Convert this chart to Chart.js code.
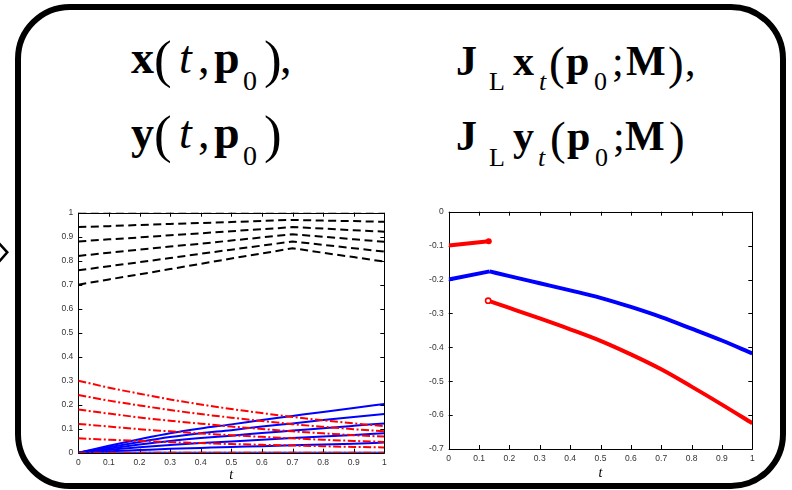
<!DOCTYPE html>
<html>
<head>
<meta charset="utf-8">
<script src="https://cdn.jsdelivr.net/npm/chart.js@4/dist/chart.umd.min.js"></script>
<style>
html,body{margin:0;padding:0;background:#fff;}
body{width:792px;height:490px;position:relative;overflow:hidden;font-family:'Liberation Serif','Times New Roman',serif;color:#000;}
#frame{position:absolute;left:15px;top:4px;width:771px;height:485px;box-sizing:border-box;border:6px solid #000;border-radius:55px;}
.g{position:absolute;white-space:pre;line-height:1;}
.L{font-size:46px;}
.Lp{font-size:53px;}
.Ls{font-size:28px;}
.R{font-size:42px;}
.Rp{font-size:47px;}
.Rs{font-size:26px;}
.b{font-weight:bold;}
.i{font-style:italic;}
canvas{position:absolute;}
</style>
</head>
<body>
<svg style="position:absolute;left:0;top:240px" width="12" height="26"><polyline points="-1,3.3 7.3,12.3 -1,21.7" fill="none" stroke="#000" stroke-width="2.5"/></svg>
<div id="frame"></div>

<!-- x(t,p0), -->
<span class="g L b" style="left:131px;top:34.8px">x</span>
<span class="g Lp" style="left:154px;top:32.7px">(</span>
<span class="g L i" style="left:179px;top:34.8px">t</span>
<span class="g L" style="left:198px;top:34.8px">,</span>
<span class="g L b" style="left:214px;top:34.8px">p</span>
<span class="g Ls" style="left:243px;top:67.3px">0</span>
<span class="g Lp" style="left:264px;top:32.7px">)</span>
<span class="g L" style="left:280px;top:34.8px">,</span>
<!-- y(t,p0) -->
<span class="g L b" style="left:131px;top:109.8px">y</span>
<span class="g Lp" style="left:154px;top:107.7px">(</span>
<span class="g L i" style="left:179px;top:109.8px">t</span>
<span class="g L" style="left:198px;top:109.8px">,</span>
<span class="g L b" style="left:214px;top:109.8px">p</span>
<span class="g Ls" style="left:243px;top:142.3px">0</span>
<span class="g Lp" style="left:264px;top:107.7px">)</span>
<!-- J_L x_t(p0;M), -->
<span class="g R b" style="left:456px;top:39.8px">J</span>
<span class="g Rs" style="left:489px;top:69.2px">L</span>
<span class="g R b" style="left:513px;top:39.8px">x</span>
<span class="g Rs i" style="left:539px;top:69.2px">t</span>
<span class="g Rp" style="left:549px;top:39.9px">(</span>
<span class="g R b" style="left:566px;top:39.8px">p</span>
<span class="g Rs" style="left:594px;top:69.2px">0</span>
<span class="g R" style="left:612px;top:39.8px">;</span>
<span class="g R b" style="left:626px;top:39.8px">M</span>
<span class="g Rp" style="left:668px;top:39.9px">)</span>
<span class="g R" style="left:685px;top:39.8px">,</span>
<!-- J_L y_t(p0;M) -->
<span class="g R b" style="left:456px;top:115.3px">J</span>
<span class="g Rs" style="left:489px;top:144.7px">L</span>
<span class="g R b" style="left:513px;top:115.3px">y</span>
<span class="g Rs i" style="left:538px;top:144.7px">t</span>
<span class="g Rp" style="left:550px;top:115.4px">(</span>
<span class="g R b" style="left:567px;top:115.3px">p</span>
<span class="g Rs" style="left:595px;top:144.7px">0</span>
<span class="g R" style="left:613px;top:115.3px">;</span>
<span class="g R b" style="left:625px;top:115.3px">M</span>
<span class="g Rp" style="left:669px;top:115.4px">)</span>

<canvas id="left" width="355" height="285" style="left:40px;top:200px"></canvas>
<canvas id="right" width="360" height="285" style="left:405px;top:200px"></canvas>

<script>
// ---------- data: left panel ----------
const tGrid = [0, 0.1, 0.2, 0.3, 0.4, 0.5, 0.6, 0.7, 0.8, 0.9, 1];

const blackDashed1 = [1.000, 1.000, 1.000, 1.000, 1.000, 1.000, 1.000, 1.000, 1.000, 1.000, 1.000];
const blackDashed2 = [0.940, 0.944, 0.949, 0.953, 0.957, 0.961, 0.966, 0.970, 0.967, 0.965, 0.962];
const blackDashed3 = [0.880, 0.889, 0.897, 0.906, 0.914, 0.923, 0.931, 0.940, 0.934, 0.927, 0.921];
const blackDashed4 = [0.820, 0.833, 0.846, 0.859, 0.871, 0.884, 0.897, 0.910, 0.900, 0.889, 0.879];
const blackDashed5 = [0.760, 0.777, 0.794, 0.811, 0.829, 0.846, 0.863, 0.880, 0.866, 0.852, 0.838];
const blackDashed6 = [0.700, 0.722, 0.743, 0.765, 0.787, 0.809, 0.830, 0.852, 0.833, 0.815, 0.796];

const redDashDot1 = [0.300, 0.271, 0.246, 0.222, 0.201, 0.182, 0.165, 0.149, 0.135, 0.122, 0.111];
const redDashDot2 = [0.240, 0.217, 0.197, 0.178, 0.161, 0.146, 0.132, 0.119, 0.108, 0.098, 0.089];
const redDashDot3 = [0.180, 0.163, 0.147, 0.133, 0.121, 0.109, 0.099, 0.089, 0.081, 0.073, 0.067];
const redDashDot4 = [0.120, 0.109, 0.098, 0.089, 0.080, 0.073, 0.066, 0.060, 0.054, 0.049, 0.045];
const redDashDot5 = [0.060, 0.054, 0.049, 0.044, 0.040, 0.036, 0.033, 0.030, 0.027, 0.024, 0.022];
const redDashDot6 = [0.000, 0.000, 0.000, 0.000, 0.000, 0.000, 0.000, 0.000, 0.000, 0.000, 0.000];

const blueSolid1 = [0.000, 0.029, 0.056, 0.081, 0.101, 0.118, 0.136, 0.153, 0.170, 0.186, 0.203];
const blueSolid2 = [0.000, 0.023, 0.045, 0.065, 0.081, 0.094, 0.109, 0.122, 0.136, 0.149, 0.161];
const blueSolid3 = [0.000, 0.017, 0.034, 0.049, 0.061, 0.071, 0.082, 0.092, 0.102, 0.112, 0.122];
const blueSolid4 = [0.000, 0.012, 0.023, 0.032, 0.040, 0.047, 0.054, 0.061, 0.068, 0.074, 0.081];
const blueSolid5 = [0.000, 0.006, 0.011, 0.016, 0.020, 0.024, 0.027, 0.031, 0.034, 0.037, 0.042];
const blueSolid6 = [0.000, 0.000, 0.000, 0.000, 0.000, 0.000, 0.000, 0.000, 0.000, 0.000, 0.000];

const leftYTickLabels = ['0','0.1','0.2','0.3','0.4','0.5','0.6','0.7','0.8','0.9','1'];
const tTickLabels     = ['0','0.1','0.2','0.3','0.4','0.5','0.6','0.7','0.8','0.9','1'];

// ---------- data: right panel ----------
const tBlue  = [0, 0.135, 0.2, 0.3, 0.4, 0.5, 0.6, 0.7, 0.8, 0.9, 1];
const jxBlue = [-0.200, -0.176, -0.190, -0.211, -0.232, -0.254, -0.281, -0.311, -0.345, -0.380, -0.418];
const tRedA  = [0, 0.132];
const jyRedA = [-0.100, -0.0875];
const tRedB  = [0.13, 0.2, 0.3, 0.4, 0.5, 0.6, 0.7, 0.8, 0.9, 1];
const jyRedB = [-0.2625, -0.284, -0.315, -0.347, -0.381, -0.421, -0.465, -0.516, -0.569, -0.624];

const rightYTickLabels = ['-0.7','-0.6','-0.5','-0.4','-0.3','-0.2','-0.1','0'];

// ---------- helpers ----------
const pts = (ts, vs) => ts.map((t, i) => ({x: t, y: vs[i]}));
const tickFont = {family: "'Liberation Sans', Arial, sans-serif", size: 8.5};
const tickColor = '#333';

const framePlugin = {
  id: 'frameTicks',
  beforeDatasetsDraw(chart) {
    const {ctx, chartArea: a} = chart;
    const xs = chart.scales.x, ys = chart.scales.y;
    const L = 4;
    ctx.save();
    ctx.strokeStyle = '#000';
    ctx.lineWidth = 1;
    ctx.beginPath();
    ctx.rect(Math.round(a.left) + 0.5, Math.round(a.top) + 0.5,
             Math.round(a.right) - Math.round(a.left), Math.round(a.bottom) - Math.round(a.top));
    ctx.stroke();
    ctx.beginPath();
    xs.ticks.forEach(tk => {
      const px = Math.round(xs.getPixelForValue(tk.value)) + 0.5;
      ctx.moveTo(px, a.bottom); ctx.lineTo(px, a.bottom - L);
      ctx.moveTo(px, a.top); ctx.lineTo(px, a.top + L);
    });
    ys.ticks.forEach(tk => {
      const py = Math.round(ys.getPixelForValue(tk.value)) + 0.5;
      ctx.moveTo(a.left, py); ctx.lineTo(a.left + L, py);
      ctx.moveTo(a.right, py); ctx.lineTo(a.right - L, py);
    });
    ctx.stroke();
    ctx.restore();
  }
};

function xScale(labels, height, titlePadBottom) {
  return {
    type: 'linear', min: 0, max: 1,
    grid: {display: false, drawTicks: false}, border: {display: false},
    ticks: {stepSize: 0.1, padding: 5, color: tickColor, font: tickFont, maxRotation: 0, autoSkip: false,
            callback: (v) => labels[Math.round(v * 10)]},
    title: {display: true, text: 't', color: '#000',
            font: {family: "'Liberation Serif', 'Times New Roman', serif", style: 'italic', size: 14},
            padding: {top: 0, bottom: titlePadBottom}},
    afterFit(s) { s.height = height; }
  };
}
function yScale(min, max, labels, width) {
  return {
    type: 'linear', min: min, max: max,
    grid: {display: false, drawTicks: false}, border: {display: false},
    ticks: {stepSize: 0.1, padding: 5, color: tickColor, font: tickFont, autoSkip: false,
            callback: (v) => labels[Math.round((v - min) * 10)]},
    afterFit(s) { s.width = width; }
  };
}
const common = {
  responsive: false, animation: false, devicePixelRatio: 1,
  plugins: {legend: {display: false}, tooltip: {enabled: false}},
  elements: {point: {radius: 0}, line: {tension: 0}}
};

// ---------- left chart ----------
const blacks = [blackDashed1, blackDashed2, blackDashed3, blackDashed4, blackDashed5, blackDashed6];
const reds   = [redDashDot1, redDashDot2, redDashDot3, redDashDot4, redDashDot5, redDashDot6];
const blues  = [blueSolid1, blueSolid2, blueSolid3, blueSolid4, blueSolid5, blueSolid6];
const leftSets = [];
reds.forEach(v => leftSets.push({data: pts(tGrid, v), borderColor: '#ff0000', borderWidth: 2, borderDash: [8, 2.5, 2, 2.5], cubicInterpolationMode: 'monotone', order: 0}));
blues.forEach(v => leftSets.push({data: pts(tGrid, v), borderColor: '#0000ff', borderWidth: 2, cubicInterpolationMode: 'monotone', order: 1}));
blacks.forEach(v => leftSets.push({data: pts(tGrid, v), borderColor: '#000000', borderWidth: 2, borderDash: [8, 4.5], order: 2}));

new Chart(document.getElementById('left'), {
  type: 'line',
  data: {datasets: leftSets},
  options: Object.assign({}, common, {
    layout: {padding: {top: 12.7, right: 10.7, bottom: 0, left: 0}},
    scales: {x: xScale(tTickLabels, 32.3, 1.3), y: yScale(0, 1, leftYTickLabels, 38.3)}
  }),
  plugins: [framePlugin]
});

// ---------- right chart ----------
new Chart(document.getElementById('right'), {
  type: 'line',
  data: {datasets: [
    {data: pts(tRedA, jyRedA), borderColor: '#ff0000', borderWidth: 4, order: 0,
     pointRadius: [0, 3], pointBackgroundColor: '#ff0000', pointBorderColor: '#ff0000', pointBorderWidth: 0},
    {data: pts(tRedB, jyRedB), borderColor: '#ff0000', borderWidth: 4, order: 0, cubicInterpolationMode: 'monotone',
     pointRadius: tRedB.map((t, i) => i === 0 ? 2.6 : 0), pointBackgroundColor: '#ffffff', pointBorderColor: '#ff0000', pointBorderWidth: 1.6},
    {data: pts(tBlue.slice(0, 2), jxBlue.slice(0, 2)), borderColor: '#0000ff', borderWidth: 4, order: 1},
    {data: pts(tBlue.slice(1), jxBlue.slice(1)), borderColor: '#0000ff', borderWidth: 4, order: 1, cubicInterpolationMode: 'monotone'}
  ]},
  options: Object.assign({}, common, {
    layout: {padding: {top: 11.7, right: 12.7, bottom: 0, left: 0}},
    scales: {x: xScale(tTickLabels, 36, 3.3), y: yScale(-0.7, 0, rightYTickLabels, 43.7)}
  }),
  plugins: [framePlugin]
});
</script>
</body>
</html>
